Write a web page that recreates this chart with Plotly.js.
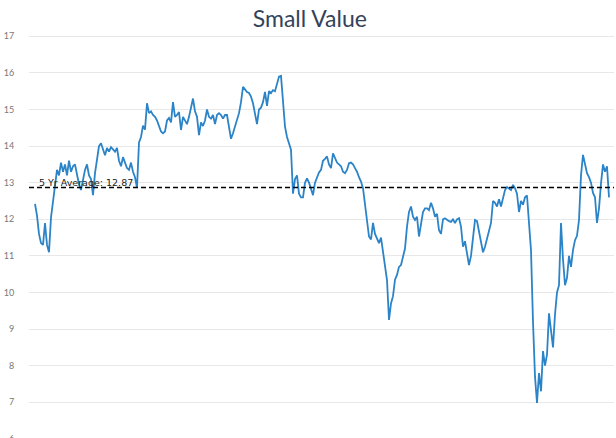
<!DOCTYPE html>
<html>
<head>
<meta charset="utf-8">
<script src="https://cdn.plot.ly/plotly-3.0.1.min.js"></script>
<style>html,body{margin:0;padding:0;overflow:hidden;background:#fff;}</style>
</head>
<body>
<div id="chart"></div>
<script>
const chartTitle = "Small Value";
const averageLabel = "5 Yr Average: 12.87";
const fiveYearAverage = 12.87;
const yTicks = [6, 7, 8, 9, 10, 11, 12, 13, 14, 15, 16, 17];
const values = [
12.42,12.1,11.6,11.35,11.3,11.9,11.3,11.1,12.05,12.5,12.9,13.35,13.2,13.55,13.3,13.5,13.2,13.6,13.3,13.45,
13.5,13.2,12.95,12.8,13.1,13.35,13.5,13.2,13.1,12.66,13.26,13.7,14.0,14.08,13.9,13.75,13.95,13.85,13.97,13.9,
13.85,13.95,13.6,13.45,13.7,13.55,13.4,13.35,13.55,13.3,13.15,12.86,14.1,14.25,14.56,14.45,15.17,14.9,14.95,14.85,
14.8,14.7,14.57,14.4,14.35,14.4,14.7,14.77,14.65,15.2,14.8,14.85,14.93,14.44,14.8,14.7,14.6,14.8,15.1,15.3,
14.95,14.8,14.3,14.65,14.55,14.7,15.0,14.8,14.75,14.85,14.6,14.85,14.9,14.85,14.75,14.85,14.85,14.5,14.2,14.35,
14.55,14.7,14.9,15.2,15.62,15.55,15.48,15.45,15.35,15.17,14.85,14.6,15.0,15.05,15.2,15.48,15.1,15.5,15.45,15.53,
15.5,15.72,15.9,15.92,15.3,14.53,14.25,14.1,13.9,12.7,13.1,13.2,12.7,12.6,12.6,13.0,13.12,13.0,12.85,12.66,
13.0,13.15,13.28,13.35,13.6,13.65,13.72,13.5,13.4,13.8,13.65,13.55,13.5,13.45,13.3,13.26,13.35,13.53,13.55,13.5,
13.4,13.3,13.15,13.03,12.85,12.4,12.05,11.53,11.45,11.9,11.6,11.45,11.35,11.5,11.08,10.7,10.34,9.25,9.7,9.9,
10.35,10.48,10.7,10.75,10.97,11.2,11.8,12.2,12.35,12.07,11.98,12.07,11.53,11.9,12.2,12.3,12.3,12.25,12.45,12.3,
12.07,12.15,11.7,11.6,12.0,12.03,11.98,11.95,11.93,12.0,11.9,12.0,12.03,11.8,11.25,11.4,11.07,10.75,11.0,11.55,
11.98,11.95,11.65,11.4,11.1,11.25,11.45,11.65,11.9,12.5,12.45,12.35,12.55,12.35,12.6,12.8,12.88,12.85,12.8,12.94,
12.85,12.7,12.2,12.5,12.4,12.6,12.65,11.9,11.15,9.2,7.7,6.98,7.8,7.3,8.4,8.0,8.3,9.43,9.0,8.5,
9.4,10.0,10.2,11.9,10.9,10.2,10.4,11.0,10.7,11.16,11.43,11.55,11.98,13.2,13.76,13.5,13.26,13.15,13.0,12.72,
12.6,11.9,12.3,12.98,13.5,13.3,13.45,12.6
];
const days = values.map((v, i) => i);

const trace = {
  x: days, y: values, type: 'scatter', mode: 'lines',
  line: {color: '#2b84c7', width: 1.8},
  hoverinfo: 'skip', showlegend: false
};

const layout = {
  width: 616, height: 446,
  margin: {l: 29, r: 2, t: 30, b: 6},
  paper_bgcolor: '#ffffff', plot_bgcolor: '#ffffff',
  title: {text: chartTitle, font: {family: 'Lato, sans-serif', size: 23, color: '#34435a'},
          x: 0.503, xanchor: 'center', y: 0.957, yanchor: 'middle', yref: 'container'},
  xaxis: {range: [-3, 289.5], visible: false, showgrid: false, zeroline: false, fixedrange: true},
  yaxis: {range: [5.97, 17.172], tickvals: yTicks, ticktext: yTicks.map(String),
          showgrid: true, gridcolor: '#e8e8e8', gridwidth: 1, zeroline: false, showline: false,
          ticks: 'outside', ticklen: 12, tickcolor: 'rgba(0,0,0,0)',
          tickfont: {family: 'Lato, sans-serif', size: 9, color: '#777777'}, fixedrange: true},
  shapes: [{type: 'line', xref: 'paper', x0: 0, x1: 1, yref: 'y', y0: fiveYearAverage, y1: fiveYearAverage,
            line: {color: '#000000', width: 1.5, dash: '5px,3px'}}],
  annotations: [{text: averageLabel, xref: 'paper', x: 0.013, xanchor: 'left', yref: 'y', y: fiveYearAverage,
                 yanchor: 'bottom', yshift: -3, showarrow: false,
                 font: {family: 'DejaVu Sans, sans-serif', size: 9.5, color: '#222222'}}]
};

Plotly.newPlot('chart', [trace], layout, {displayModeBar: false, staticPlot: true});
</script>
</body>
</html>
